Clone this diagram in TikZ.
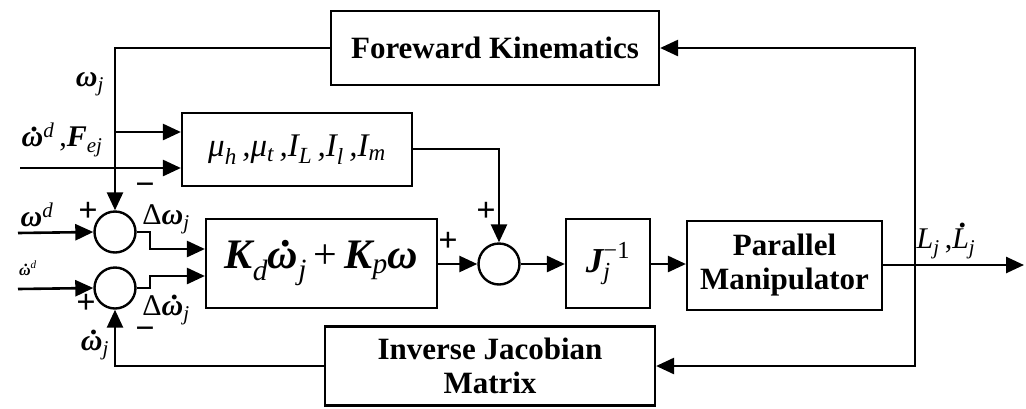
\documentclass[tikz,border=0pt]{standalone}
\usepackage{amsmath}
\usepackage{fontspec}
\setmainfont{Liberation Serif}
\usetikzlibrary{arrows.meta}
\newcommand\bi[1]{{\bfseries\itshape #1}}
\newcommand\dt[2][0.52em]{\leavevmode\ooalign{#2\cr\hidewidth\kern0.12em\raisebox{#1}{\bfseries .}\hidewidth\cr}}
\newcommand\sbj[1]{\textsubscript{\normalfont\itshape #1}}
\begin{document}
\begin{tikzpicture}[x=1pt,y=-1pt,
  line width=2.6pt,
  arr/.style={-{Triangle[length=18pt,width=16pt]}},
  blk/.style={draw, line width=2.2pt, fill=white, inner sep=0pt, minimum width=#1},
  sumc/.style={draw, circle, line width=2.4pt, minimum size=41pt, inner sep=0pt},
  lbl/.style={inner sep=0pt, font=\fontsize{30}{32}\selectfont},
  sg/.style={inner sep=0pt, font=\fontsize{34}{34}\selectfont\bfseries},
  btxt/.style={font=\fontsize{31}{34}\selectfont\bfseries, align=center}]
\useasboundingbox (0,0) rectangle (1026,408);
% blocks
\node[blk=328pt, minimum height=74pt, btxt] (fk) at (495,48) {Foreward Kinematics};
\node[blk=330pt, minimum height=79pt, btxt] (ij) at (490,366) {Inverse Jacobian\\Matrix};
\node[blk=230pt, minimum height=73pt, font=\fontsize{33}{35}\selectfont\itshape] (mu) at (297,149.5)
  {μ\sbj{h}\,,μ\sbj{t}\,,I\sbj{L}\,,I\sbj{l}\,,I\sbj{m}};
\node[blk=231pt, minimum height=89pt, font=\fontsize{42}{45}\selectfont] (kb) at (321.5,263.5)
  {\bi{K}\sbj{d}\dt{\bi{ω}}\sbj{j}\,+\,\bi{K}\sbj{p}\bi{ω}};
\node[blk=84pt, minimum height=89pt, font=\fontsize{35}{38}\selectfont] (jb) at (608,263.5)
  {$\text{\bfseries\itshape J}_{\text{\normalfont\itshape j}}^{\text{\normalfont −1}}$};
\node[blk=195pt, minimum height=89pt, btxt] (pm) at (784.5,265.5) {Parallel\\Manipulator};
% summing junctions
\node[sumc] (s1) at (115,232) {};
\node[sumc] (s2) at (115,288) {};
\node[sumc] (s3) at (499,264) {};
% coordinates
\coordinate (c1) at (115,48);
\coordinate (br) at (115,132);
\coordinate (in2) at (20,168);
\coordinate (in3) at (18,233);
\coordinate (in4) at (18,289);
\coordinate (e1) at (150,232);
\coordinate (e1b) at (150,249);
\coordinate (e2) at (150,288);
\coordinate (e2b) at (150,276);
\coordinate (m1) at (499,149);
\coordinate (tap) at (915,265);
\coordinate (out) at (1024,265);
\coordinate (b1) at (115,366);
% connectors
\draw[arr] (fk.west) -- (c1) -- (s1.north);
\draw[arr] (br) -- (br -| mu.west);
\draw[arr] (in2) -- (in2 -| mu.west);
\draw[arr] (in3) -- (s1.west);
\draw[arr] (in4) -- (s2.west);
\draw[arr] (s1.east) -- (e1) -- (e1b) -- (e1b -| kb.west);
\draw[arr] (s2.east) -- (e2) -- (e2b) -- (e2b -| kb.west);
\draw[arr] (mu.east |- m1) -- (m1) -- (s3.north);
\draw[arr] (kb.east |- s3) -- (s3.west);
\draw[arr] (s3.east) -- (jb.west |- s3);
\draw[arr] (jb.east |- s3) -- (pm.west |- s3);
\draw[arr] (pm.east |- tap) -- (out);
\draw[arr] (tap) |- (fk.east);
\draw[arr] (tap) |- (ij.east);
\draw[arr] (ij.west) -- (b1) -- (s2.south);
% labels
\node[lbl] (l1) at (90,84) {\bi{ω}\sbj{j}};
\node[lbl] (l2) at (62,140) {\dt{\bi{ω}}\textsuperscript{\normalfont\itshape d}\,,\bi{F}\sbj{ej}};
\node[lbl] (l3) at (37,215) {\bi{ω}\textsuperscript{\normalfont\itshape d}};
\node[lbl, font=\fontsize{16}{17}\selectfont] (l4) at (28,268) {\dt{\bi{ω}}\textsuperscript{\normalfont\itshape d}};
\node[lbl] (l5) at (166,219) {Δ\bi{ω}\sbj{j}};
\node[lbl] (l6) at (166,310) {Δ\dt{\bi{ω}}\sbj{j}};
\node[lbl] (l7) at (95,348) {\dt{\bi{ω}}\sbj{j}};
\node[lbl] (l8) at (946,244) {\textit{L}\sbj{j}\,,\dt[0.72em]{\textit{L}}\sbj{j}};
\node[sg] (p1) at (88,212) {+};
\node[sg] (p2) at (86,304) {+};
\node[sg] (p3) at (448,242) {+};
\node[sg] (p4) at (486,212) {+};
\node[sg] (n1) at (145,189) {−};
\node[sg] (n2) at (145,333) {−};
\end{tikzpicture}
\end{document}
